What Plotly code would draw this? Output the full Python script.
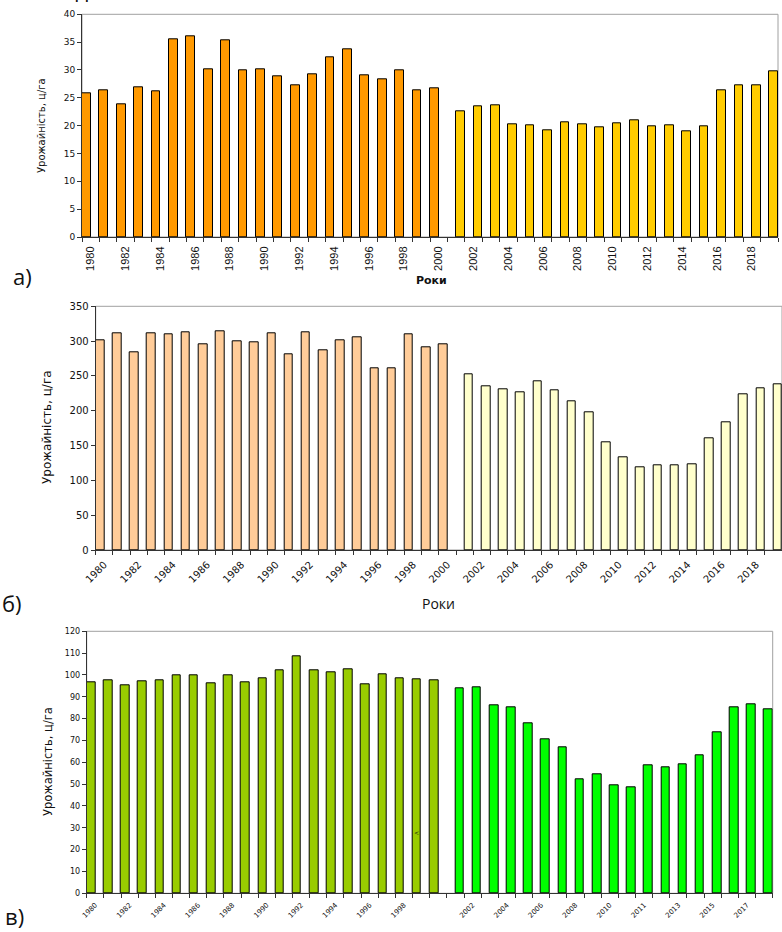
import plotly.graph_objects as go

W, H = 782, 932

years_a = list(range(1980, 2001))
years_b = list(range(2001, 2020))

# Panel a)
a_first = [25.9, 26.4, 23.9, 26.9, 26.1, 35.5, 36.1, 30.1, 35.3, 30.0, 30.1,
           28.8, 27.2, 29.3, 32.2, 33.7, 29.0, 28.4, 30.0, 26.4, 26.7]
a_second = [22.6, 23.5, 23.6, 20.2, 20.1, 19.2, 20.6, 20.2, 19.7, 20.4,
            21.0, 19.9, 20.1, 18.9, 19.8, 26.3, 27.3, 27.2, 29.7]

# Panel б)
b_first = [301.6, 310.7, 284.3, 310.7, 309.7, 312.1, 295.8, 314.5, 300.1, 297.7,
           310.7, 280.5, 312.1, 286.7, 301.6, 304.9, 261.4, 261.4, 309.7, 291.0, 294.9]
b_second = [252.3, 234.6, 230.7, 226.4, 242.2, 229.3, 213.5, 197.7, 154.1, 133.1,
            118.7, 121.1, 122.1, 123.0, 160.8, 183.8, 224.0, 231.7, 237.9]

# Panel в)
c_first = [96.6, 97.6, 95.3, 97.3, 97.6, 100.0, 100.0, 96.2, 99.7, 96.6, 98.6,
           102.3, 108.4, 102.3, 101.2, 102.6, 95.6, 100.3, 98.6, 98.0, 97.6]
c_second = [93.9, 94.4, 86.1, 85.2, 77.9, 70.5, 67.0, 52.1, 54.5, 49.5,
            48.7, 58.5, 57.6, 59.2, 63.4, 73.7, 85.2, 86.7, 84.4]

# Tick labels
ab_tickvals = list(range(1980, 2020, 2))
ab_ticktext = [str(y) for y in ab_tickvals]
c_tickvals = [1980, 1982, 1984, 1986, 1988, 1990, 1992, 1994, 1996, 1998,
              2002, 2004, 2006, 2008, 2010, 2012, 2014, 2016, 2018]
c_ticktext = ["1980", "1982", "1984", "1986", "1988", "1990", "1992", "1994", "1996", "1998",
              "2002", "2004", "2006", "2008", "2010", "2011", "2013", "2015", "2017"]

y_title = "Урожайність, ц/га"
x_title = "Роки"

def px_x(p):
    return p / W

def px_y(p):
    return 1 - p / H

fig = go.Figure()

line = dict(color="black", width=1)
def bar(x, y, color, xa, ya, group):
    return go.Bar(x=x, y=y, marker=dict(color=color, line=line), offsetgroup=group,
                  alignmentgroup=xa, xaxis=xa, yaxis=ya, showlegend=False)

fig.add_trace(bar(years_a, a_first, "#FF9900", "x", "y", "g1"))
fig.add_trace(bar(years_b, a_second, "#FFCC00", "x", "y", "g2"))
fig.add_trace(bar(years_a, b_first, "#FFCC99", "x2", "y2", "g1"))
fig.add_trace(bar(years_b, b_second, "#FFFFCC", "x2", "y2", "g2"))
fig.add_trace(bar(years_a, c_first, "#99CC00", "x3", "y3", "g1"))
fig.add_trace(bar(years_b, c_second, "#00FF00", "x3", "y3", "g2"))

xr = [1979.5, 2019.5]

def xaxis(domain, anchor, tickvals, ticktext, angle, font):
    return dict(domain=domain, anchor=anchor, range=xr, showgrid=False, zeroline=False,
                showline=True, linecolor="#333", linewidth=1,
                tickmode="array", tickvals=tickvals, ticktext=ticktext,
                tickangle=angle, tickfont=font, ticks="", ticklabelstandoff=4,
                minor=dict(tickmode="linear", tick0=1979.5, dtick=1, ticks="outside",
                           ticklen=4, tickcolor="#333", tickwidth=1, showgrid=False),
                automargin=False, fixedrange=True)

def yaxis(domain, anchor, rng, dtick, font):
    return dict(domain=domain, anchor=anchor, range=rng, dtick=dtick, showgrid=False,
                zeroline=False, showline=True, linecolor="#333", linewidth=1,
                ticks="outside", ticklen=4, tickcolor="#333", tickfont=font,
                automargin=False, fixedrange=True)

fA = dict(family="Liberation Sans Narrow, Liberation Sans", size=11, color="#111")
fB = dict(family="DejaVu Sans", size=10, color="#111")
fC = dict(family="DejaVu Sans", size=7, color="#111")

fig.update_layout(
    width=W, height=H,
    margin=dict(l=0, r=0, t=0, b=0, pad=0),
    paper_bgcolor="white", plot_bgcolor="white",
    barmode="group", bargap=0, bargroupgap=0,
    xaxis=xaxis([px_x(82), px_x(778)], "y", ab_tickvals, ab_ticktext, -90, fA),
    yaxis=yaxis([px_y(237), px_y(14.3)], "x", [0, 40], 5,
                dict(family="DejaVu Sans", size=9, color="#111")),
    xaxis2=xaxis([px_x(95.7), 1.0], "y2", ab_tickvals, ab_ticktext, -45, fB),
    yaxis2=yaxis([px_y(550), px_y(306.3)], "x2", [0, 350], 50,
                 dict(family="DejaVu Sans", size=10, color="#111")),
    xaxis3=xaxis([px_x(86.7), px_x(772.7)], "y3", c_tickvals, c_ticktext, -45, fC),
    yaxis3=yaxis([px_y(893.3), px_y(631.3)], "x3", [0, 120], 10,
                 dict(family="DejaVu Sans", size=8, color="#111")),
)

# plot-area frames (top and right borders in grey)
for xr_, yr_ in [("x domain", "y domain"), ("x2 domain", "y2 domain"), ("x3 domain", "y3 domain")]:
    fig.add_shape(type="rect", xref=xr_, yref=yr_, x0=0, x1=1, y0=0, y1=1,
                  line=dict(color="#A0A0A0", width=1), layer="below")

ann = []
def text(x, y, s, size, family="DejaVu Sans", angle=0, bold=False, xanchor="center", yanchor="middle"):
    ann.append(dict(x=px_x(x), y=px_y(y), xref="paper", yref="paper", text=("<b>%s</b>" % s) if bold else s,
                    showarrow=False, textangle=angle, xanchor=xanchor, yanchor=yanchor,
                    font=dict(family=family, size=size, color="#111")))

# y-axis titles
text(42, 126, y_title, 10, angle=-90)
text(47, 427, y_title, 12, angle=-90)
text(48, 762, y_title, 11.5, angle=-90)
# x-axis titles
text(431, 280, x_title, 11, bold=True)
text(439, 603, x_title, 14, family="Open Sans")
# panel labels
text(22, 276, "а)", 22, family="Open Sans")
text(12, 603, "б)", 22, family="Open Sans")
text(14, 916, "в)", 22, family="Open Sans")
# clipped heading at very top
ann.append(dict(x=0.0, y=px_y(6), xref="paper", yref="paper", text="ини вод.",
                showarrow=False, xanchor="left", yanchor="bottom",
                font=dict(family="Open Sans", size=22, color="#111")))
# small stray mark inside a bar of panel в)
ann.append(dict(x=1999 - 0.25, y=28, xref="x3", yref="y3", text="<", showarrow=False,
                font=dict(family="DejaVu Sans", size=6, color="#111")))

fig.update_layout(annotations=ann)

fig.write_html("out.html", config={"displayModeBar": False},
               post_script="document.body.style.margin='0';document.body.style.overflow='hidden';")
